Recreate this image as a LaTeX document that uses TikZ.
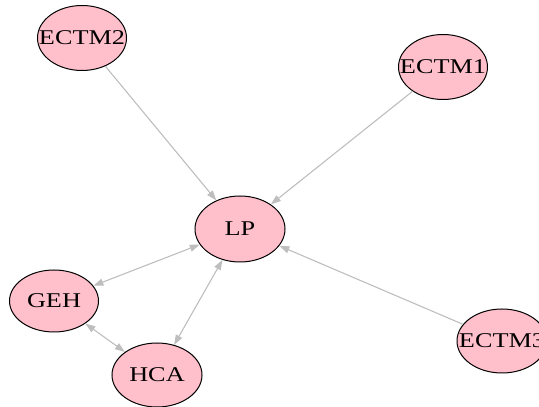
\documentclass[tikz,border=0pt]{standalone}
\usepackage{fontspec}
\newfontfamily\labfont[FakeStretch=1.25]{Liberation Serif}
\usetikzlibrary{shapes.geometric,arrows.meta}
\definecolor{vpink}{HTML}{FFC0CB}
\definecolor{egray}{HTML}{BEBEBE}
\newcommand{\vlab}[1]{\makebox[0pt]{#1}}
\begin{document}
\begin{tikzpicture}[x=1pt,y=1pt,
  vert/.style={ellipse,draw=black,line width=1pt,fill=vpink,inner sep=0pt,
    minimum width=89pt,minimum height=65pt,font=\labfont\fontsize{21}{23}\selectfont},
  tip/.tip={Triangle[length=10pt,width=7pt]},
  edge/.style={draw=egray,line width=1.1pt,-tip},
  bedge/.style={draw=egray,line width=1.1pt,tip-tip}]
\useasboundingbox (0,0) rectangle (539,407);
\node[vert] (ECTM2) at (82,369) {\vlab{ECTM2}};
\node[vert] (ECTM1) at (443,340) {\vlab{ECTM1}};
\node[vert,minimum width=90pt,minimum height=66pt] (LP) at (240,178) {\vlab{LP}};
\node[vert,minimum height=62pt] (GEH) at (54,106) {\vlab{GEH}};
\node[vert,minimum width=90pt,minimum height=64pt] (HCA) at (157,32) {\vlab{HCA}};
\node[vert,minimum width=90pt,minimum height=64pt] (ECTM3) at (502,66) {\vlab{ECTM3}};
\draw[edge] (ECTM2) -- (LP);
\draw[edge] (ECTM1) -- (LP);
\draw[edge] (ECTM3) -- (LP);
\draw[bedge] (LP) -- (GEH);
\draw[bedge] (LP) -- (HCA);
\draw[bedge] (GEH) -- (HCA);
\end{tikzpicture}
\end{document}
